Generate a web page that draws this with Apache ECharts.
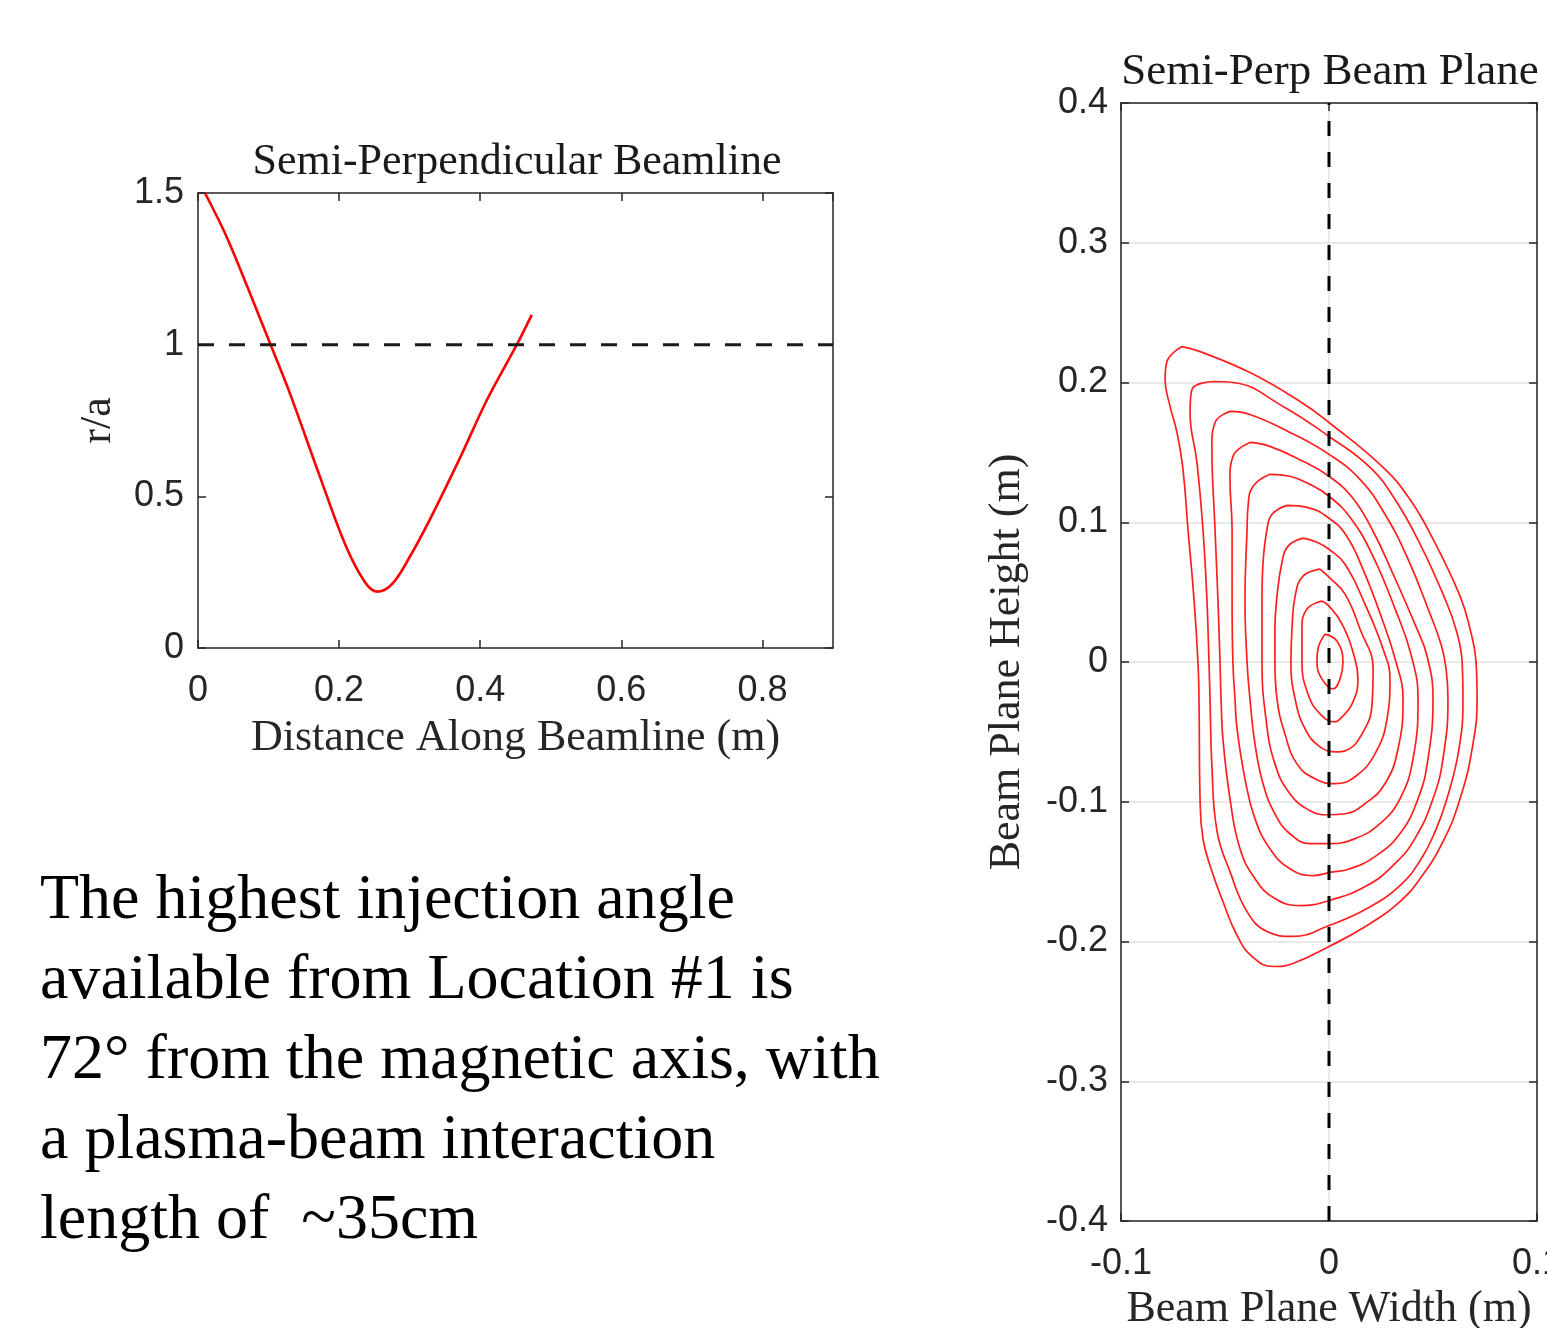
<!DOCTYPE html>
<html><head><meta charset="utf-8">
<script src="https://cdn.jsdelivr.net/npm/echarts@6/dist/echarts.min.js"></script>
<style>html,body{margin:0;padding:0;background:#fff;overflow:hidden}#c{width:1547px;height:1328px}</style>
</head><body><div id="c"></div>
<script>
// ---- Left chart: r/a along the semi-perpendicular beamline ----
const beamX = [0.0099, 0.0405, 0.0735, 0.1018, 0.130, 0.172, 0.210, 0.238, 0.255, 0.276, 0.300, 0.330, 0.370, 0.410, 0.453, 0.473];
const beamY = [1.500, 1.356, 1.170, 1.006, 0.841, 0.570, 0.334, 0.213, 0.186, 0.213, 0.300, 0.430, 0.620, 0.820, 1.005, 1.098];
const edgeX = [0, 0.9];
const edgeY = [1, 1];

// ---- Right chart: flux contours in the beam plane ----
const contour1 = [[-0.0707,0.2257],[-0.0620,0.2221],[-0.0380,0.2071],[-0.0139,0.1864],[0,0.1714],[0.0260,0.1393],[0.0389,0.1164],[0.0500,0.0879],[0.0630,0.0471],[0.0678,0.0236],[0.0707,0],[0.0712,-0.0264],[0.0688,-0.0621],[0.0630,-0.0979],[0.0548,-0.1286],[0.0438,-0.1550],[0.0341,-0.1714],[0.0183,-0.1886],[0,-0.2036],[-0.0173,-0.2157],[-0.0269,-0.2179],[-0.0370,-0.2107],[-0.0442,-0.1957],[-0.0510,-0.1714],[-0.0567,-0.1479],[-0.0606,-0.1264],[-0.0620,-0.0979],[-0.0625,-0.0264],[-0.0630,0],[-0.0649,0.0450],[-0.0678,0.0950],[-0.0702,0.1379],[-0.0731,0.1643],[-0.0764,0.1829],[-0.0788,0.2021],[-0.0779,0.2150],[-0.0707,0.2257]];
const contour2 = [[-0.0558,0.2007],[-0.0462,0.2000],[-0.0221,0.1829],[0,0.1614],[0.0197,0.1393],[0.0317,0.1164],[0.0438,0.0843],[0.0558,0.0450],[0.0610,0.0236],[0.0640,0],[0.0644,-0.0264],[0.0625,-0.0621],[0.0567,-0.0979],[0.0510,-0.1214],[0.0438,-0.1421],[0.0341,-0.1600],[0.0183,-0.1764],[0,-0.1886],[-0.0173,-0.1964],[-0.0298,-0.1929],[-0.0394,-0.1786],[-0.0476,-0.1500],[-0.0538,-0.1214],[-0.0563,-0.0743],[-0.0572,-0.0264],[-0.0577,0],[-0.0587,0.0450],[-0.0606,0.0950],[-0.0635,0.1429],[-0.0668,0.1786],[-0.0659,0.1950],[-0.0558,0.2007]];
const contour3 = [[-0.0476,0.1793],[-0.0380,0.1771],[-0.0188,0.1643],[0,0.1486],[0.0149,0.1307],[0.0269,0.1057],[0.0380,0.0736],[0.0486,0.0343],[0.0540,0.0120],[0.0563,-0.0050],[0.0572,-0.0264],[0.0548,-0.0693],[0.0500,-0.0979],[0.0413,-0.1264],[0.0317,-0.1443],[0.0183,-0.1600],[0,-0.1707],[-0.0139,-0.1743],[-0.0260,-0.1693],[-0.0356,-0.1550],[-0.0428,-0.1336],[-0.0476,-0.0979],[-0.0510,-0.0550],[-0.0519,-0.0264],[-0.0524,0],[-0.0534,0.0450],[-0.0548,0.0950],[-0.0563,0.1543],[-0.0548,0.1714],[-0.0476,0.1793]];
const contour4 = [[-0.0380,0.1571],[-0.0284,0.1543],[-0.0125,0.1436],[0,0.1329],[0.0111,0.1179],[0.0207,0.0950],[0.0308,0.0629],[0.0413,0.0271],[0.0470,0.0050],[0.0500,-0.0264],[0.0476,-0.0693],[0.0428,-0.0979],[0.0341,-0.1229],[0.0221,-0.1393],[0.0101,-0.1479],[0,-0.1507],[-0.0077,-0.1529],[-0.0188,-0.1479],[-0.0284,-0.1336],[-0.0356,-0.1121],[-0.0404,-0.0836],[-0.0442,-0.0479],[-0.0452,-0.0264],[-0.0462,0],[-0.0466,0.0450],[-0.0466,0.0950],[-0.0476,0.1307],[-0.0462,0.1471],[-0.0380,0.1571]];
const contour5 = [[-0.0284,0.1343],[-0.0188,0.1329],[-0.0091,0.1271],[0,0.1186],[0.0101,0.1036],[0.0207,0.0771],[0.0322,0.0364],[0.0395,0.0050],[0.0428,-0.0264],[0.0404,-0.0693],[0.0341,-0.0979],[0.0245,-0.1157],[0.0125,-0.1264],[0,-0.1300],[-0.0091,-0.1300],[-0.0188,-0.1229],[-0.0260,-0.1086],[-0.0317,-0.0871],[-0.0356,-0.0586],[-0.0380,-0.0264],[-0.0394,0],[-0.0404,0.0450],[-0.0394,0.0950],[-0.0389,0.1114],[-0.0365,0.1257],[-0.0284,0.1343]];
const contour6 = [[-0.0202,0.1121],[-0.0106,0.1107],[0,0.1029],[0.0082,0.0907],[0.0159,0.0679],[0.0250,0.0329],[0.0322,0],[0.0356,-0.0264],[0.0332,-0.0621],[0.0269,-0.0871],[0.0173,-0.1014],[0.0077,-0.1086],[0,-0.1093],[-0.0091,-0.1064],[-0.0188,-0.0943],[-0.0260,-0.0729],[-0.0303,-0.0407],[-0.0322,0],[-0.0322,0.0471],[-0.0317,0.0714],[-0.0298,0.0950],[-0.0274,0.1057],[-0.0202,0.1121]];
const contour7 = [[-0.0125,0.0886],[-0.0058,0.0857],[0,0.0807],[0.0077,0.0700],[0.0173,0.0414],[0.0260,0.0093],[0.0293,-0.0121],[0.0279,-0.0407],[0.0221,-0.0657],[0.0125,-0.0821],[0.0029,-0.0871],[-0.0067,-0.0836],[-0.0154,-0.0729],[-0.0212,-0.0514],[-0.0250,-0.0264],[-0.0260,0],[-0.0260,0.0236],[-0.0250,0.0471],[-0.0226,0.0714],[-0.0197,0.0829],[-0.0125,0.0886]];
const contour8 = [[-0.0043,0.0664],[0,0.0607],[0.0077,0.0486],[0.0149,0.0236],[0.0212,-0.0050],[0.0207,-0.0300],[0.0159,-0.0514],[0.0077,-0.0636],[0.0038,-0.0643],[-0.0043,-0.0607],[-0.0115,-0.0479],[-0.0163,-0.0264],[-0.0183,0],[-0.0178,0.0236],[-0.0163,0.0471],[-0.0125,0.0614],[-0.0043,0.0664]];
const contour9 = [[-0.0034,0.0436],[0,0.0400],[0.0063,0.0271],[0.0125,0.0021],[0.0139,-0.0121],[0.0111,-0.0300],[0.0053,-0.0407],[0.0029,-0.0429],[-0.0043,-0.0371],[-0.0101,-0.0229],[-0.0130,0],[-0.0130,0.0236],[-0.0106,0.0379],[-0.0034,0.0436]];
const contour10 = [[-0.0019,0.0200],[0.0038,0.0150],[0.0067,0],[0.0053,-0.0121],[0.0019,-0.0193],[-0.0034,-0.0121],[-0.0058,0],[-0.0053,0.0093],[-0.0019,0.0200]];
const contours = [contour1, contour2, contour3, contour4, contour5, contour6, contour7, contour8, contour9, contour10];
const beamAxisX = [0, 0];
const beamAxisY = [-0.4, 0.4];

const noteLines = [
  'The highest injection angle',
  'available from Location #1 is',
  '72\u00B0 from the magnetic axis, with',
  'a plasma-beam interaction',
  'length of  ~35cm'
];

const SERIF = '"Liberation Serif", "DejaVu Serif", serif';
const SANS = '"Liberation Sans", Arial, sans-serif';
const AX = '#262626';
const TICKFS = 36;

function valAxis(extra) {
  return Object.assign({
    type: 'value',
    axisLine: { show: true, onZero: false, lineStyle: { color: AX, width: 1.5 } },
    axisTick: { show: true, inside: true, length: 8, lineStyle: { color: AX, width: 1.5 } },
    axisLabel: { show: true, color: AX, fontFamily: SANS, fontSize: TICKFS },
    splitLine: { show: false }
  }, extra);
}

const chart = echarts.init(document.getElementById('c'), null, { renderer: 'canvas' });

const series = [];
series.push({
  type: 'line', xAxisIndex: 0, yAxisIndex: 0, showSymbol: false, symbol: 'none', smooth: 0.35,
  data: beamX.map((x, i) => [x, beamY[i]]),
  lineStyle: { color: '#ff0000', width: 2.6 }, silent: true, z: 3
});
series.push({
  type: 'line', xAxisIndex: 0, yAxisIndex: 0, showSymbol: false, symbol: 'none',
  data: edgeX.map((x, i) => [x, edgeY[i]]),
  lineStyle: { color: '#1a1a1a', width: 3, type: [16, 15] }, silent: true, z: 4
});
contours.forEach(c => series.push({
  type: 'line', xAxisIndex: 2, yAxisIndex: 2, showSymbol: false, symbol: 'none', smooth: 0.45,
  data: c, lineStyle: { color: '#ff1f1f', width: 1.7 }, silent: true, z: 3
}));
series.push({
  type: 'line', xAxisIndex: 2, yAxisIndex: 2, showSymbol: false, symbol: 'none',
  data: beamAxisX.map((x, i) => [x, beamAxisY[i]]),
  lineStyle: { color: '#000', width: 3, type: [15, 16] }, silent: true, z: 5
});

const option = {
  backgroundColor: '#fff',
  animation: false,
  title: [
    { text: 'Semi-Perpendicular Beamline', left: 512, top: 157, textAlign: 'center', textVerticalAlign: 'middle',
      textStyle: { fontFamily: SERIF, fontSize: 44, fontWeight: 'normal', color: '#1a1a1a' } },
    { text: 'Semi-Perp Beam Plane', left: 1325, top: 67, textAlign: 'center', textVerticalAlign: 'middle',
      textStyle: { fontFamily: SERIF, fontSize: 45, fontWeight: 'normal', color: '#1a1a1a' } }
  ],
  grid: [
    { left: 198, top: 193, width: 635, height: 455, containLabel: false, outerBoundsMode: 'none' },
    { left: 1121, top: 103, width: 416, height: 1118, containLabel: false, outerBoundsMode: 'none' }
  ],
  xAxis: [
    valAxis({ gridIndex: 0, position: 'bottom', min: 0, max: 0.9, interval: 0.2,
      axisLabel: { color: AX, fontFamily: SANS, fontSize: TICKFS, margin: 25, showMaxLabel: false },
      name: 'Distance Along Beamline (m)', nameLocation: 'middle', nameGap: 68,
      nameTextStyle: { fontFamily: SERIF, fontSize: 44, color: AX } }),
    valAxis({ gridIndex: 0, position: 'top', min: 0, max: 0.9, interval: 0.2, axisLabel: { show: false } }),
    valAxis({ gridIndex: 1, position: 'bottom', min: -0.1, max: 0.1, interval: 0.1,
      axisLabel: { color: AX, fontFamily: SANS, fontSize: TICKFS, margin: 25 },
      splitLine: { show: true, lineStyle: { color: '#e2e2e2', width: 1.5 } },
      name: 'Beam Plane Width (m)', nameLocation: 'middle', nameGap: 66,
      nameTextStyle: { fontFamily: SERIF, fontSize: 44, color: AX } }),
    valAxis({ gridIndex: 1, position: 'top', min: -0.1, max: 0.1, interval: 0.1, axisLabel: { show: false } })
  ],
  yAxis: [
    valAxis({ gridIndex: 0, position: 'left', min: 0, max: 1.5, interval: 0.5,
      axisLabel: { color: AX, fontFamily: SANS, fontSize: TICKFS, margin: 14 },
      name: 'r/a', nameLocation: 'middle', nameGap: 78, nameRotate: 90,
      nameTextStyle: { fontFamily: SERIF, fontSize: 44, color: AX } }),
    valAxis({ gridIndex: 0, position: 'right', min: 0, max: 1.5, interval: 0.5, axisLabel: { show: false } }),
    valAxis({ gridIndex: 1, position: 'left', min: -0.4, max: 0.4, interval: 0.1,
      axisLabel: { color: AX, fontFamily: SANS, fontSize: TICKFS, margin: 13 },
      splitLine: { show: true, lineStyle: { color: '#e2e2e2', width: 1.5 } },
      name: 'Beam Plane Height (m)', nameLocation: 'middle', nameGap: 92, nameRotate: 90,
      nameTextStyle: { fontFamily: SERIF, fontSize: 44, color: AX } }),
    valAxis({ gridIndex: 1, position: 'right', min: -0.4, max: 0.4, interval: 0.1, axisLabel: { show: false } })
  ],
  graphic: noteLines.map((t, i) => ({
    type: 'text', left: 40, top: 869 + i * 80,
    style: { text: t, fontFamily: SERIF, fontSize: 64, fill: '#000' }
  })),
  series: series
};
chart.setOption(option);
</script></body></html>
